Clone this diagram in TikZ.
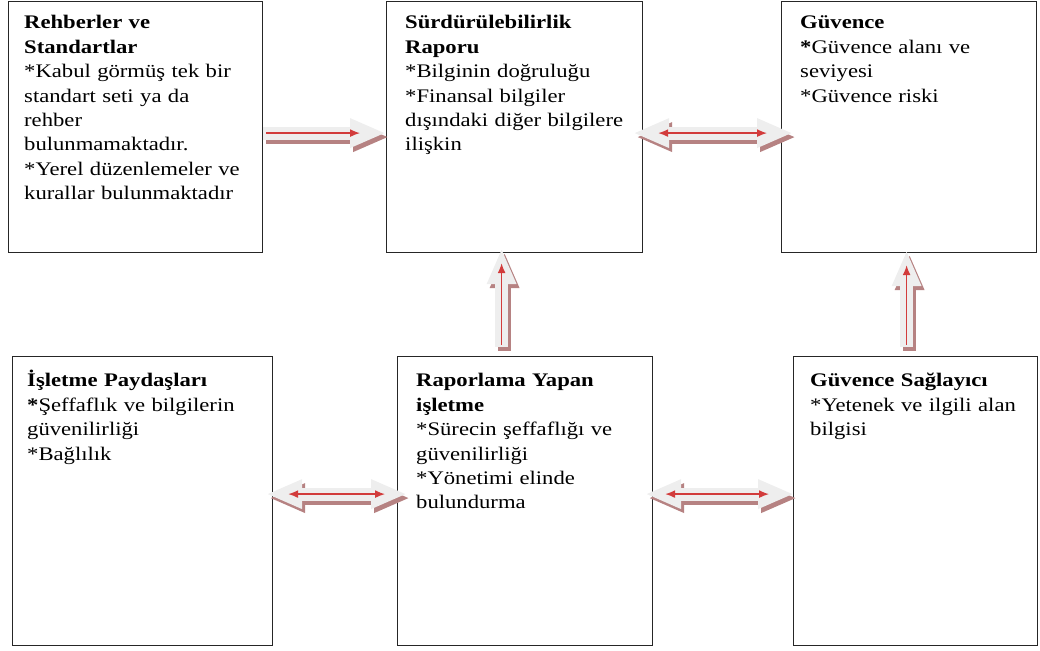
\documentclass[tikz,border=0pt]{standalone}
\usepackage{fontspec}
\setmainfont{Liberation Serif}[FakeStretch=1.18]
\usepackage{xcolor}
\usepackage{tikz}
\usetikzlibrary{arrows.meta}
\definecolor{shadowred}{RGB}{182,130,130}
\definecolor{arrowred}{RGB}{210,60,60}
\definecolor{bodygray}{RGB}{238,238,238}

\begin{document}
\begin{tikzpicture}[x=1pt,y=1pt,
  box/.style={draw=black!85,line width=1.2pt,anchor=north west,inner sep=0pt},
  txt/.style={anchor=base west,inner sep=0pt,text width=250pt,align=left,
              font=\fontsize{19.2}{24.4}\selectfont},
  arrowbody/.style={line width=13pt,draw=bodygray},
  arrowshadow/.style={line width=13pt,draw=shadowred,transform canvas={shift={(3pt,-4pt)}}},
  onehead/.style={-{Triangle[length=36pt,width=27pt]}},
  twoheads/.style={{Triangle[length=36pt,width=27pt]}-{Triangle[length=36pt,width=27pt]}},
  redline/.style={draw=arrowred,line width=1.4pt},
  redtip/.style={-{Latex[length=10pt,width=8pt]}},
  redtips/.style={{Latex[length=10pt,width=8pt]}-{Latex[length=10pt,width=8pt]}}]
\useasboundingbox (0,0) rectangle (1040,650);

\node[box,minimum width=254pt,minimum height=251pt] (A) at (8,649) {};
\node[box,minimum width=256pt,minimum height=251pt] (B) at (386,649) {};
\node[box,minimum width=255pt,minimum height=251pt] (C) at (781,649) {};
\node[box,minimum width=260pt,minimum height=289pt] (D) at (12,294) {};
\node[box,minimum width=255pt,minimum height=289pt] (E) at (397,294) {};
\node[box,minimum width=244pt,minimum height=289pt] (F) at (793,294) {};

\node[txt] (tA) at ([shift={(16pt,-28pt)}]A.north west)
  {\textbf{Rehberler ve}\\ \textbf{Standartlar}\\ {*}Kabul görmüş tek bir\\ standart seti ya da\\
   rehber\\ bulunmamaktadır.\\ {*}Yerel düzenlemeler ve\\ kurallar bulunmaktadır};
\node[txt] (tB) at ([shift={(19pt,-28pt)}]B.north west)
  {\textbf{Sürdürülebilirlik}\\ \textbf{Raporu}\\ {*}Bilginin doğruluğu\\ {*}Finansal bilgiler\\
   dışındaki diğer bilgilere\\ ilişkin};
\node[txt] (tC) at ([shift={(19pt,-28pt)}]C.north west)
  {\textbf{Güvence}\\ \textbf{*}Güvence alanı ve\\ seviyesi\\ {*}Güvence riski};
\node[txt] (tD) at ([shift={(15pt,-31pt)}]D.north west)
  {\textbf{İşletme Paydaşları}\\ \textbf{*}Şeffaflık ve bilgilerin\\ güvenilirliği\\ {*}Bağlılık};
\node[txt] (tE) at ([shift={(19pt,-31pt)}]E.north west)
  {\textbf{Raporlama Yapan}\\ \textbf{işletme}\\ {*}Sürecin şeffaflığı ve\\ güvenilirliği\\
   {*}Yönetimi elinde\\ bulundurma};
\node[txt] (tF) at ([shift={(17pt,-31pt)}]F.north west)
  {\textbf{Güvence Sağlayıcı}\\ {*}Yetenek ve ilgili alan\\ bilgisi};

\draw[arrowshadow,onehead] ([yshift=-6pt]A.east) -- ([yshift=-6pt]B.west);
\draw[arrowbody,onehead] ([yshift=-6pt]A.east) -- ([yshift=-6pt]B.west);
\draw[redline,redtip,shorten <=3pt,shorten >=26pt] ([yshift=-6pt]A.east) -- ([yshift=-6pt]B.west);

\draw[arrowshadow,twoheads] ([xshift=-10pt,yshift=-6pt]B.east) -- ([xshift=12pt,yshift=-6pt]C.west);
\draw[arrowbody,twoheads] ([xshift=-10pt,yshift=-6pt]B.east) -- ([xshift=12pt,yshift=-6pt]C.west);
\draw[redline,redtips,shorten <=25pt,shorten >=26pt] ([xshift=-10pt,yshift=-6pt]B.east) -- ([xshift=12pt,yshift=-6pt]C.west);

\draw[arrowshadow,twoheads] ([xshift=-7pt,yshift=7pt]D.east) -- ([xshift=10pt,yshift=7pt]E.west);
\draw[arrowbody,twoheads] ([xshift=-7pt,yshift=7pt]D.east) -- ([xshift=10pt,yshift=7pt]E.west);
\draw[redline,redtips,shorten <=22pt,shorten >=22pt] ([xshift=-7pt,yshift=7pt]D.east) -- ([xshift=10pt,yshift=7pt]E.west);

\draw[arrowshadow,twoheads] ([xshift=-8pt,yshift=7pt]E.east) -- ([xshift=1pt,yshift=7pt]F.west);
\draw[arrowbody,twoheads] ([xshift=-8pt,yshift=7pt]E.east) -- ([xshift=1pt,yshift=7pt]F.west);
\draw[redline,redtips,shorten <=20pt,shorten >=25pt] ([xshift=-8pt,yshift=7pt]E.east) -- ([xshift=1pt,yshift=7pt]F.west);

\draw[arrowshadow,onehead] ([xshift=-23.5pt,yshift=9pt]E.north) -- ([xshift=-13pt,yshift=5pt]B.south);
\draw[arrowbody,onehead] ([xshift=-23.5pt,yshift=9pt]E.north) -- ([xshift=-13pt,yshift=5pt]B.south);
\draw[redline,redtip,shorten <=2pt,shorten >=15pt] ([xshift=-23.5pt,yshift=9pt]E.north) -- ([xshift=-13pt,yshift=5pt]B.south);

\draw[arrowshadow,onehead] ([xshift=-9pt,yshift=9pt]F.north) -- ([xshift=-2.5pt,yshift=3pt]C.south);
\draw[arrowbody,onehead] ([xshift=-9pt,yshift=9pt]F.north) -- ([xshift=-2.5pt,yshift=3pt]C.south);
\draw[redline,redtip,shorten <=2pt,shorten >=15pt] ([xshift=-9pt,yshift=9pt]F.north) -- ([xshift=-2.5pt,yshift=3pt]C.south);
\end{tikzpicture}
\end{document}
